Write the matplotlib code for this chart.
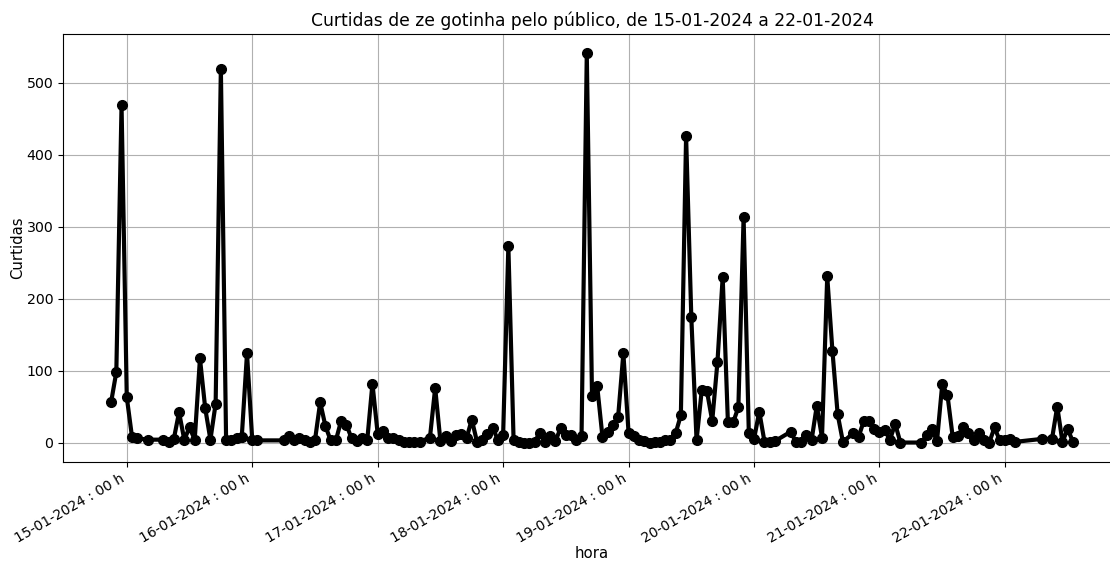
import matplotlib
matplotlib.use("Agg")
import matplotlib.pyplot as plt
import matplotlib.dates as mdates
import pandas as pd

plt.rcParams["font.family"] = ["DejaVu Sans"]

# Hours elapsed since 15-01-2024 00:00 for each hourly observation
hours = [-3, -2, -1, 0, 1, 2, 4, 7, 8, 9, 10, 11, 12, 13, 14, 15, 16, 17, 18, 19,
         20, 21, 22, 23, 24, 25, 30, 31, 32, 33, 34, 35, 36, 37, 38, 39, 40, 41, 42, 43,
         44, 45, 46, 47, 48, 49, 50, 51, 52, 53, 54, 55, 56, 58, 59, 60, 61, 62, 63, 64,
         65, 66, 67, 68, 69, 70, 71, 72, 73, 74, 75, 76, 77, 78, 79, 80, 81, 82, 83, 84,
         85, 86, 87, 88, 89, 90, 91, 92, 93, 94, 95, 96, 97, 98, 99, 100, 101, 102, 103, 104,
         105, 106, 107, 108, 109, 110, 111, 112, 113, 114, 115, 116, 117, 118, 119, 120, 121, 122, 123, 124,
         127, 128, 129, 130, 131, 132, 133, 134, 135, 136, 137, 139, 140, 141, 142, 143, 144, 145, 146, 147,
         148, 152, 153, 154, 155, 156, 157, 158, 159, 160, 161, 162, 163, 164, 165, 166, 167, 168, 169, 170,
         175, 177, 178, 179, 180, 181]

curtidas = [56, 98, 469, 63, 8, 6, 4, 4, 1, 5, 42, 4, 21, 4, 117, 48, 4, 54, 520, 4,
            4, 6, 8, 124, 4, 3, 3, 9, 3, 6, 4, 1, 3, 56, 23, 3, 3, 30, 25, 6,
            2, 6, 3, 82, 12, 16, 6, 7, 3, 1, 1, 1, 1, 7, 76, 2, 9, 2, 10, 12,
            6, 32, 1, 4, 12, 20, 4, 11, 273, 3, 1, 0, 0, 1, 13, 1, 9, 2, 20, 10,
            10, 4, 9, 541, 65, 78, 8, 15, 25, 36, 124, 13, 9, 4, 2, 0, 1, 1, 3, 3,
            13, 38, 426, 174, 3, 73, 71, 30, 112, 230, 28, 28, 49, 313, 13, 5, 43, 1, 1, 2,
            15, 1, 1, 11, 3, 51, 7, 231, 127, 39, 1, 13, 8, 30, 30, 19, 14, 17, 4, 26,
            0, 0, 10, 19, 2, 81, 66, 8, 9, 22, 13, 4, 13, 4, 0, 21, 3, 4, 5, 1,
            5, 5, 50, 1, 19, 1]

start = pd.Timestamp("2024-01-15 00:00")
times = [start + pd.Timedelta(hours=h) for h in hours]

title = "Curtidas de ze gotinha pelo público, de 15-01-2024 a 22-01-2024"

fig = plt.figure(figsize=(11.10, 5.61), dpi=100)
ax = fig.add_axes([63 / 1110, (561 - 462) / 561, (1121 - 63) / 1110, (462 - 34) / 561])

ax.plot(times, curtidas, color="black", linewidth=3, marker="o", markersize=7)

ax.xaxis.set_major_locator(mdates.DayLocator())
ax.xaxis.set_major_formatter(mdates.DateFormatter("%d-%m-%Y : %H h"))
for lbl in ax.get_xticklabels():
    lbl.set_rotation(30)
    lbl.set_ha("right")
    lbl.set_fontsize(10)
for lbl in ax.get_yticklabels():
    lbl.set_fontsize(10.2)

ax.grid(True, color="#b0b0b0", linewidth=0.8)
ax.set_axisbelow(True)
ax.set_title(title, fontsize=12.3)
ax.set_xlabel("hora", fontsize=10.7, labelpad=0)
ax.set_ylabel("Curtidas", fontsize=10.7, labelpad=1)

fig.savefig("out.png", dpi=100)
